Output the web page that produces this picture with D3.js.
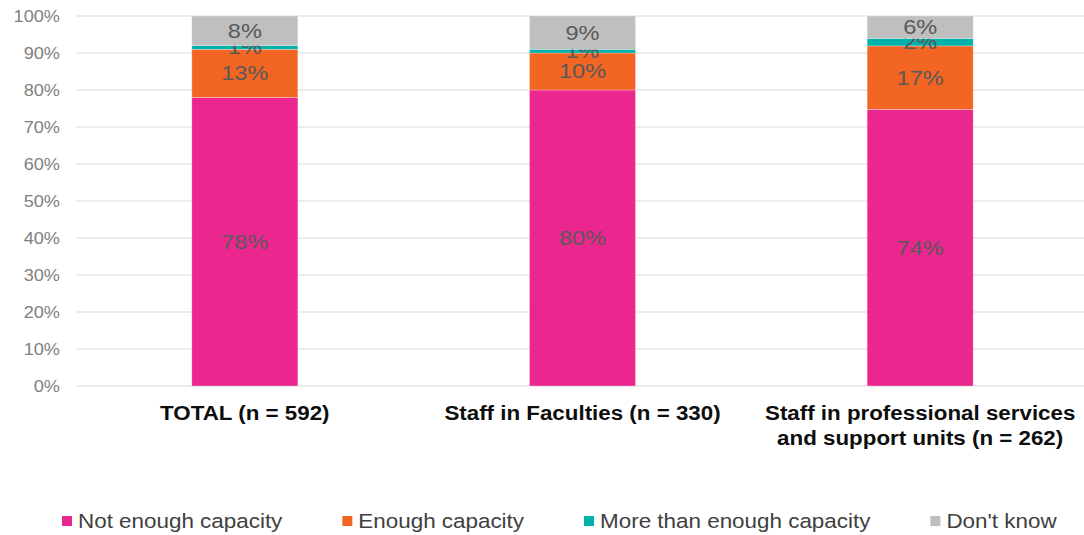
<!DOCTYPE html>
<html>
<head>
<meta charset="utf-8">
<script src="https://cdn.jsdelivr.net/npm/d3@7"></script>
<style>
  html, body { margin: 0; padding: 0; background: #fff; }
  svg { display: block; font-family: "Liberation Sans", Arial, sans-serif; }
</style>
</head>
<body>
<svg id="chart" width="1084" height="535"></svg>
<script>
// Survey groups along the x axis (multi-line labels)
const categories = ["TOTAL (n = 592)", "Staff in Faculties (n = 330)", "Staff in professional services and support units (n = 262)"];
const categoryLines = [["TOTAL (n = 592)"], ["Staff in Faculties (n = 330)"], ["Staff in professional services", "and support units (n = 262)"]];

// Response shares (%) per group
const seriesNames = ["Not enough capacity", "Enough capacity", "More than enough capacity", "Don't know"];
const notEnough = [78, 80, 74];
const enough = [13, 10, 17];
const moreThanEnough = [1, 1, 2];
const dontKnow = [8, 9, 6];

const colors = ["#EC268F", "#F26522", "#00B2A9", "#BFBFBF"];
const yTicks = [0, 0.1, 0.2, 0.3, 0.4, 0.5, 0.6, 0.7, 0.8, 0.9, 1.0];

const svg = d3.select("#chart");
const margin = { left: 76, right: -5, top: 16, bottom: 149 };
const W = 1084, H = 535;

// Slightly wide lettering used throughout the chart
const WIDE = 1.13;

const rows = categories.map((c, i) => ({
  category: c,
  "Not enough capacity": notEnough[i],
  "Enough capacity": enough[i],
  "More than enough capacity": moreThanEnough[i],
  "Don't know": dontKnow[i]
}));

const x = d3.scaleBand()
  .domain(categories)
  .range([margin.left, W - margin.right])
  .paddingInner(0.686)
  .paddingOuter(0.343);

const y = d3.scaleLinear().domain([0, 1]).range([H - margin.bottom, margin.top]);

// 100% stacked layout
const stack = d3.stack().keys(seriesNames).offset(d3.stackOffsetExpand);
const layers = stack(rows);

// Gridlines
svg.append("g")
  .selectAll("line")
  .data(yTicks)
  .join("line")
  .attr("x1", margin.left)
  .attr("x2", W)
  .attr("y1", d => y(d))
  .attr("y2", d => y(d))
  .attr("stroke", "#d9d9d9")
  .attr("stroke-width", 1.2);

// Y axis labels
const yAxis = d3.axisLeft(y).tickValues(yTicks).tickFormat(d3.format(".0%")).tickSize(0).tickPadding(0);
const gy = svg.append("g").attr("transform", `translate(60,0)`).call(yAxis);
gy.select(".domain").remove();
gy.selectAll("text")
  .attr("fill", "#808080")
  .attr("transform", "scale(1.1,1)")
  .style("font-size", "16.5px")
  .style("font-family", "'Liberation Sans', Arial, sans-serif");

// Bars
const gLayers = svg.append("g")
  .selectAll("g")
  .data(layers)
  .join("g")
  .attr("fill", (d, i) => colors[i]);

gLayers.selectAll("rect")
  .data(d => d.map(p => ({ p, key: d.key })))
  .join("rect")
  .attr("x", d => x(d.p.data.category))
  .attr("width", x.bandwidth())
  .attr("y", d => y(d.p[1]))
  .attr("height", d => y(d.p[0]) - y(d.p[1]))
  .attr("stroke", "#fff")
  .attr("stroke-opacity", 0.35)
  .attr("stroke-width", 0.8);

// Data labels
gLayers.selectAll("text")
  .data(d => d.map(p => ({ p, key: d.key })))
  .join("text")
  .attr("transform", d => `translate(${x(d.p.data.category) + x.bandwidth() / 2},${(y(d.p[0]) + y(d.p[1])) / 2}) scale(1.15,1)`)
  .attr("text-anchor", "middle")
  .attr("dominant-baseline", "central")
  .attr("fill", "#595959")
  .style("font-size", "20.5px")
  .text(d => d.p.data[d.key] + "%");

// Category labels
const gx = svg.append("g");
categories.forEach((c, i) => {
  const t = gx.append("text")
    .attr("transform", `translate(${x(c) + x.bandwidth() / 2},420) scale(1.09,1)`)
    .attr("text-anchor", "middle")
    .attr("fill", "#0d0d0d")
    .style("font-size", "20.5px")
    .style("font-weight", "bold");
  categoryLines[i].forEach((line, j) => {
    t.append("tspan")
      .attr("x", 0)
      .attr("dy", j === 0 ? 0 : 25)
      .text(line);
  });
});

// Legend
const legend = svg.append("g");
let lx = 62;
seriesNames.forEach((name, i) => {
  legend.append("rect")
    .attr("x", lx)
    .attr("y", 516)
    .attr("width", 10)
    .attr("height", 10)
    .attr("fill", colors[i]);
  const t = legend.append("text")
    .attr("transform", `translate(${lx + 16},521) scale(1.15,1)`)
    .attr("dominant-baseline", "central")
    .attr("fill", "#404040")
    .style("font-size", "19.5px")
    .text(name);
  lx += 16 + t.node().getComputedTextLength() * 1.15 + 60;
});
</script>
</body>
</html>
